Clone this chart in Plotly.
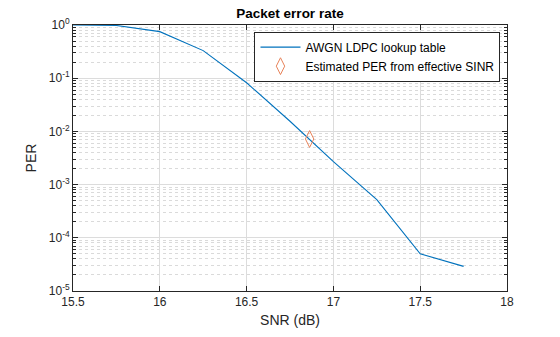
import plotly.graph_objects as go

# AWGN LDPC lookup table: SNR (dB) vs packet error rate
snr_db = [15.5, 15.75, 16.0, 16.25, 16.5, 16.75, 17.0, 17.25, 17.5, 17.75]
per_awgn = [1.0, 0.98, 0.75, 0.33, 0.082, 0.0155, 0.0027, 5.2e-4, 5.0e-5, 2.9e-5]

# Estimated PER from effective SINR
snr_eff = [16.863]
per_eff = [7.2e-3]

x_ticks = [15.5, 16, 16.5, 17, 17.5, 18]
x_tick_labels = ["15.5", "16", "16.5", "17", "17.5", "18"]
y_ticks = [1e0, 1e-1, 1e-2, 1e-3, 1e-4, 1e-5]
y_tick_labels = ["10<sup>0</sup>", "10<sup>-1</sup>", "10<sup>-2</sup>",
                 "10<sup>-3</sup>", "10<sup>-4</sup>", "10<sup>-5</sup>"]
y_minor = [k * 10.0 ** e for e in range(-5, 0) for k in range(2, 10)]

axis_col = "#262626"
font_family = "Liberation Sans, Arial, sans-serif"

fig = go.Figure()
fig.add_trace(go.Scatter(
    x=snr_db, y=per_awgn, mode="lines",
    name="AWGN LDPC lookup table",
    line=dict(color="#0072BD", width=1.1),
))
fig.add_trace(go.Scatter(
    x=snr_eff, y=per_eff, mode="markers",
    name="Estimated PER from effective SINR",
    marker=dict(symbol="diamond-tall-open", size=12,
                color="#E8835A", line=dict(width=1, color="#E8835A")),
))

fig.update_layout(
    width=560, height=337,
    margin=dict(l=73, r=53, t=25, b=39),
    paper_bgcolor="white", plot_bgcolor="white",
    font=dict(family=font_family, size=12, color=axis_col),
    title=dict(text="<b>Packet error rate</b>", x=(73 + 217) / 560,
               xanchor="center", y=1 - 13 / 337, yanchor="middle",
               font=dict(size=13.5, color="black")),
    showlegend=True,
    legend=dict(x=0.985, y=0.975, xanchor="right", yanchor="top",
                bgcolor="white", bordercolor=axis_col, borderwidth=1,
                font=dict(size=12, color="black"),
                tracegroupgap=0, itemwidth=40,
                ),
)

fig.update_xaxes(
    range=[15.5, 18], tickmode="array", tickvals=x_ticks, ticktext=x_tick_labels,
    showline=True, linecolor=axis_col, linewidth=1, mirror="allticks",
    ticks="inside", ticklen=5, tickcolor=axis_col,
    showgrid=True, gridcolor="#dcdcdc", gridwidth=1,
    zeroline=False,
    title=dict(text="SNR (dB)", font=dict(size=14, color=axis_col), standoff=6),
    tickfont=dict(size=12, color=axis_col),
)
fig.update_yaxes(
    type="log", range=[-5, 0], tickmode="array", tickvals=y_ticks, ticktext=y_tick_labels,
    showline=True, linecolor=axis_col, linewidth=1, mirror="allticks",
    ticks="inside", ticklen=5, tickcolor=axis_col,
    showgrid=True, gridcolor="#dcdcdc", gridwidth=1,
    minor=dict(tickmode="array", tickvals=y_minor, ticks="inside", ticklen=3,
               tickcolor=axis_col, showgrid=True, gridcolor="#dadada",
               griddash="dot", gridwidth=1),
    zeroline=False,
    title=dict(text="PER", font=dict(size=14, color=axis_col), standoff=8),
    tickfont=dict(size=12, color=axis_col),
)

fig.write_html("out.html")
